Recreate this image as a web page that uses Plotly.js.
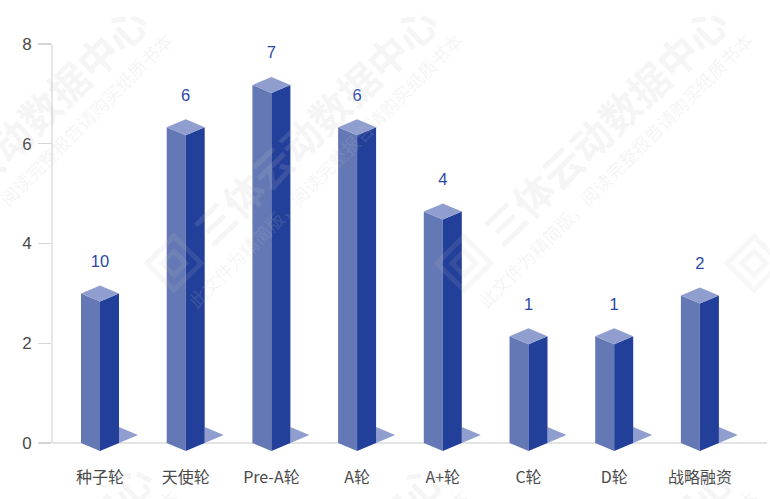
<!DOCTYPE html>
<html><head><meta charset="utf-8">
<script src="https://cdn.plot.ly/plotly-3.0.1.min.js"></script>
<style>html,body{margin:0;padding:0;background:#fff}</style></head>
<body><div id="chart" style="width:770px;height:499px"></div>
<script>
const categories = ["种子轮","天使轮","Pre-A轮","A轮","A+轮","C轮","D轮","战略融资"];
const barHeights = [3.0,6.33,7.18,6.33,4.64,2.14,2.14,2.96];
const barLabels = ["10","6","7","6","4","1","1","2"];
const yTicks = [0,2,4,6,8];

const W=770,H=499,L=52,R=767,T=43.5,B=463;
const pxPerCat=85.7, halfW=19/pxPerCat, diamond=0.16, shadowW=19/pxPerCat;
function face(list,name,color){
  const x=[],y=[];
  list.forEach(p=>{p.forEach(q=>{x.push(q[0]);y.push(q[1]);});x.push(p[0][0]);y.push(p[0][1]);x.push(null);y.push(null);});
  return {type:'scatter',mode:'lines',x,y,name,fill:'toself',fillcolor:color,line:{width:0,color},hoverinfo:'skip',showlegend:false};
}
const idx=categories.map((_,i)=>i);
const shadows=idx.map(i=>[[i+halfW,0],[i+halfW,0.32],[i+halfW+shadowW,0.16]]);
const lefts=idx.map(i=>[[i-halfW,0],[i-halfW,barHeights[i]],[i,barHeights[i]-diamond],[i,-diamond]]);
const rights=idx.map(i=>[[i,-diamond],[i,barHeights[i]-diamond],[i+halfW,barHeights[i]],[i+halfW,0]]);
const tops=idx.map(i=>[[i-halfW,barHeights[i]],[i,barHeights[i]+diamond],[i+halfW,barHeights[i]],[i,barHeights[i]-diamond]]);

const traces=[
  face(shadows,'shadow','#8F9ECE'),
  face(lefts,'front','#6478B5'),
  face(rights,'side','#223F9A'),
  face(tops,'top','#8F9ECE'),
  {type:'scatter',mode:'text',x:idx,y:barHeights.map(v=>v+0.62),text:barLabels,textposition:'middle center',
   textfont:{size:16.5,color:'#2B48A3',family:'"Liberation Sans",Arial,sans-serif'},hoverinfo:'skip',showlegend:false}
];

const xRange=[(L-100)/pxPerCat,(R-100)/pxPerCat];
const wmColor='rgba(195,195,195,0.18)';
const logoColor='rgba(195,195,195,0.13)';
const font='"Noto Sans CJK SC",sans-serif';
const annotations=[], shapes=[];
const px=(x)=>(x-L)/(R-L), py=(y)=>1-(y-T)/(B-T);
function wm(cx,cy){
  annotations.push({xref:'paper',yref:'paper',x:px(cx),y:py(cy),text:'<b>三体云动数据中心</b>',showarrow:false,textangle:-44,
    font:{size:40,color:wmColor,family:font},xanchor:'center',yanchor:'middle'});
  annotations.push({xref:'paper',yref:'paper',x:px(cx+10),y:py(cy+45),text:'此文件为精简版，阅读完整报告请购买纸质书本',showarrow:false,textangle:-45,
    font:{size:18,color:wmColor,family:font},xanchor:'center',yanchor:'middle'});
}
[25,315,605].forEach(cx=>wm(cx,125));
[30,320,610].forEach(cx=>wm(cx,582));
function diamondPath(cx,cy,r){return `M${px(cx-r)},${py(cy)}L${px(cx)},${py(cy-r)}L${px(cx+r)},${py(cy)}L${px(cx)},${py(cy+r)}Z`;}
[174,464,754].forEach(cx=>{
  shapes.push({type:'path',xref:'paper',yref:'paper',path:diamondPath(cx,263,27),line:{color:logoColor,width:5},fillcolor:'rgba(0,0,0,0)'});
  shapes.push({type:'path',xref:'paper',yref:'paper',path:diamondPath(cx,263,12),line:{color:logoColor,width:5},fillcolor:'rgba(0,0,0,0)'});
});

shapes.push({type:'line',xref:'paper',yref:'y',x0:0,x1:0,y0:0,y1:8,line:{color:'#D5D5D5',width:1.2}});

const layout={width:W,height:H,margin:{l:L,r:W-R,t:T,b:H-B},paper_bgcolor:'#fff',plot_bgcolor:'rgba(0,0,0,0)',showlegend:false,
  xaxis:{range:xRange,tickvals:idx,ticktext:categories,showgrid:false,zeroline:false,showline:false,ticks:'',ticklabelstandoff:3,
    tickfont:{size:16,color:'#4a4a4a',family:font},automargin:false,fixedrange:true},
  yaxis:{range:[(443-B)/50,8],tickvals:yTicks,showgrid:false,zeroline:true,zerolinecolor:'#E4E4E4',zerolinewidth:2,showline:false,
    ticks:'outside',ticklen:13,tickcolor:'#D5D5D5',tickwidth:1.2,ticklabelstandoff:3,tickfont:{size:17,color:'#4a4a4a',family:'"Liberation Sans",Arial,sans-serif'},automargin:false,fixedrange:true},
  annotations,shapes};
Plotly.newPlot('chart',traces,layout,{displayModeBar:false,staticPlot:true});
</script></body></html>
